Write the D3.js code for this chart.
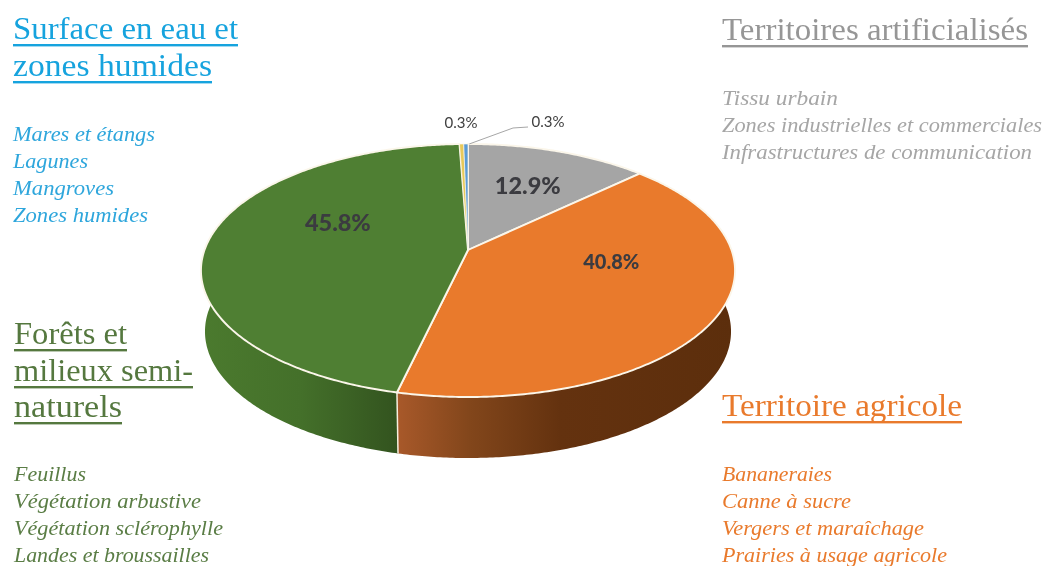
<!DOCTYPE html>
<html>
<head>
  <meta charset="utf-8">
  <title>Occupation du sol</title>
  <script src="https://cdnjs.cloudflare.com/ajax/libs/d3/7.8.5/d3.min.js"></script>
  <style>
    html, body { margin: 0; padding: 0; background: #fff; }
    svg { display: block; filter: blur(0.35px); }
  </style>
</head>
<body>
  <svg id="chart" width="1046" height="566"></svg>
  <script>
    // slices, clockwise from the top of the disc
    const sliceNames = ['Territoires artificialisés', 'Territoire agricole', 'Forêts et milieux semi-naturels', 'Surface en eau', 'Zones humides']
    const sliceValues = [12.9, 40.8, 45.8, 0.3, 0.3]
    const sliceColors = ['#a5a5a5', '#e97a2c', '#4f7f33', '#e8c95a', '#5b9bd5']

    const waterTitle = ['Surface en eau et', 'zones humides']
    const waterItems = ['Mares et étangs', 'Lagunes', 'Mangroves', 'Zones humides']
    const urbanTitle = ['Territoires artificialisés']
    const urbanItems = ['Tissu urbain', 'Zones industrielles et commerciales', 'Infrastructures de communication']
    const forestTitle = ['Forêts et', 'milieux semi-', 'naturels']
    const forestItems = ['Feuillus', 'Végétation arbustive', 'Végétation sclérophylle', 'Landes et broussailles']
    const farmTitle = ['Territoire agricole']
    const farmItems = ['Bananeraies', 'Canne à sucre', 'Vergers et maraîchage', 'Prairies à usage agricole']

    const svg = d3.select('#chart')
    const defs = svg.append('defs')

    // disc seen in perspective: the far side shrinks, so the centre sits above the ellipse middle
    const cx = 468, cy = 250, depth = 61
    const rimX = 263.5, rimY = 123.2, persp = 0.162

    const project = (angle, r = 1, drop = 0, shrink = 1) => {
      const u = Math.sin(angle) * r
      const v = Math.cos(angle) * r
      const d = 1 + persp * v
      return [cx + rimX * shrink * u / d, cy + drop - rimY * v / d]
    }

    const pie = d3.pie().sort(null).value(d => d)
    const arcs = pie(sliceValues)
    const line = d3.line()

    const sample = (a0, a1) => {
      const n = Math.max(2, Math.ceil((a1 - a0) / 0.01))
      return d3.range(n + 1).map(i => a0 + (a1 - a0) * i / n)
    }

    // side wall shading
    const wallStops = {
      1: [[396, '#a9592a'], [470, '#82461b'], [560, '#64320f'], [735, '#5c2e0c']],
      2: [[202, '#4b7a2e'], [300, '#44702a'], [396, '#33541f']]
    }
    Object.keys(wallStops).forEach(k => {
      const stops = wallStops[k]
      const g = defs.append('linearGradient')
        .attr('id', 'wall' + k)
        .attr('gradientUnits', 'userSpaceOnUse')
        .attr('x1', stops[0][0]).attr('x2', stops[stops.length - 1][0])
        .attr('y1', 0).attr('y2', 0)
      stops.forEach(s => {
        g.append('stop')
          .attr('offset', (s[0] - stops[0][0]) / (stops[stops.length - 1][0] - stops[0][0]))
          .attr('stop-color', s[1])
      })
    })

    const shrinkLow = 0.985

    // walls first, top face goes over them
    arcs.forEach((a, i) => {
      if (!wallStops[i]) return
      const a0 = Math.max(a.startAngle, Math.PI * 0.45)
      const a1 = Math.min(a.endAngle, Math.PI * 1.6)
      const angles = sample(a0, a1)
      const pts = angles.map(t => project(t))
        .concat(angles.slice().reverse().map(t => project(t, 1, depth, shrinkLow)))
      svg.append('path')
        .attr('d', line(pts) + 'Z')
        .attr('fill', `url(#wall${i})`)
    })

    // seam between the two walls
    const seam = arcs[1].endAngle
    svg.append('line')
      .attr('x1', project(seam)[0]).attr('y1', project(seam)[1])
      .attr('x2', project(seam, 1, depth, shrinkLow)[0]).attr('y2', project(seam, 1, depth, shrinkLow)[1])
      .attr('stroke', '#f6efdf').attr('stroke-width', 1.5)

    arcs.forEach((a, i) => {
      const pts = [[cx, cy]].concat(sample(a.startAngle, a.endAngle).map(t => project(t)))
      svg.append('path')
        .attr('d', line(pts) + 'Z')
        .attr('fill', sliceColors[i])
        .attr('stroke', '#fbf6ea')
        .attr('stroke-width', i > 2 ? 0.7 : 1.9)
        .attr('stroke-linejoin', 'round')
    })

    // value labels
    const fmt = v => v.toFixed(1) + '%'
    const labelFont = 'Lato, "Open Sans", sans-serif'
    const labelSpots = [
      { r: 0.63, dx: 0, dy: 9, size: 23.5 },
      { r: 0.62, dx: -6, dy: -21, size: 20 },
      { r: 0.5, dx: 0, dy: -13, size: 23.5 }
    ]
    labelSpots.forEach((s, i) => {
      const a = arcs[i]
      const p = project((a.startAngle + a.endAngle) / 2, s.r)
      svg.append('text')
        .attr('x', p[0] + s.dx).attr('y', p[1] + s.dy)
        .attr('text-anchor', 'middle')
        .attr('font-family', labelFont)
        .attr('font-size', s.size)
        .attr('font-weight', 900)
        .attr('fill', '#3b3b40')
        .text(fmt(sliceValues[i]))
    })

    // the two tiny slices are labelled outside
    svg.append('text').attr('x', 461).attr('y', 128).attr('text-anchor', 'middle')
      .attr('font-family', labelFont).attr('font-size', 15).attr('fill', '#404040')
      .text(fmt(sliceValues[3]))
    svg.append('text').attr('x', 548).attr('y', 127).attr('text-anchor', 'middle')
      .attr('font-family', labelFont).attr('font-size', 15).attr('fill', '#404040')
      .text(fmt(sliceValues[4]))
    const tip = project((arcs[4].startAngle + arcs[4].endAngle) / 2 + 0.015)
    svg.append('path')
      .attr('d', line([[528, 127], [513, 128], tip]))
      .attr('fill', 'none').attr('stroke', '#a6a6a6').attr('stroke-width', 1)

    // side notes
    const titleFont = '"Liberation Serif", "DejaVu Serif", serif'

    const drawTitle = (lines, x, ys, widths, color) => {
      lines.forEach((t, i) => {
        svg.append('text')
          .attr('x', x).attr('y', ys[i])
          .attr('font-family', titleFont).attr('font-size', 32)
          .attr('fill', color)
          .attr('textLength', widths[i]).attr('lengthAdjust', 'spacingAndGlyphs')
          .text(t)
        svg.append('rect')
          .attr('x', x).attr('y', ys[i] + 5)
          .attr('width', widths[i]).attr('height', 2.4)
          .attr('fill', color)
      })
    }

    const drawItems = (lines, x, y0, widths, color) => {
      lines.forEach((t, i) => {
        svg.append('text')
          .attr('x', x).attr('y', y0 + i * 27)
          .attr('font-family', titleFont).attr('font-size', 21.5)
          .attr('font-style', 'italic')
          .attr('fill', color)
          .attr('textLength', widths[i]).attr('lengthAdjust', 'spacingAndGlyphs')
          .text(t)
      })
    }

    drawTitle(waterTitle, 13, [39, 76], [225, 199], '#16a3de')
    drawItems(waterItems, 13, 141, [142, 75, 101, 135], '#2ea6dc')

    drawTitle(urbanTitle, 722, [40], [306], '#969696')
    drawItems(urbanItems, 722, 105, [116, 320, 310], '#a6a6a6')

    drawTitle(forestTitle, 14, [344, 381, 417], [113, 179, 108], '#55783f')
    drawItems(forestItems, 14, 481, [72, 187, 209, 195], '#5a7d45')

    drawTitle(farmTitle, 722, [416], [240], '#e97a2c')
    drawItems(farmItems, 722, 481, [110, 129, 202, 225], '#e97a2c')
  </script>
</body>
</html>
